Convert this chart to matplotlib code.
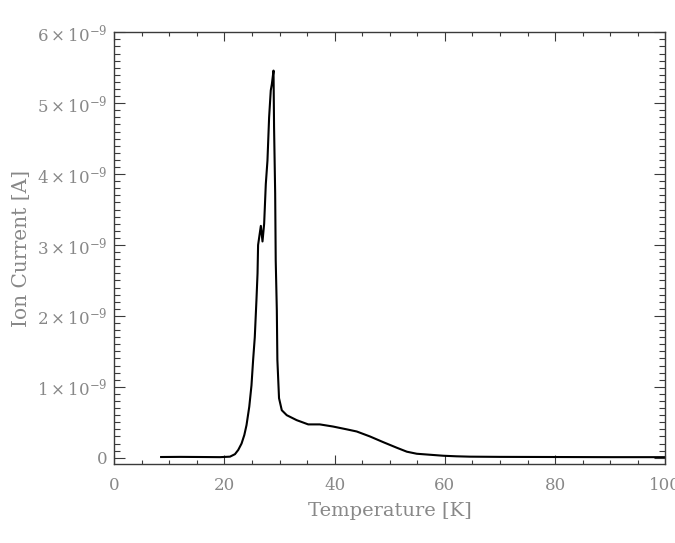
import matplotlib
matplotlib.use('Agg')
import matplotlib.pyplot as plt
from matplotlib.ticker import MultipleLocator, FixedLocator

# temperature [K] and ion current [1e-9 A]
temp = [8.5, 12.0, 16.0, 19.2, 21.0, 21.9, 22.5, 23.1, 23.6, 24.0, 24.5, 24.9,
        25.2, 25.5, 25.8, 26.0, 26.1, 26.6, 26.9, 27.2, 27.5, 27.8, 28.1, 28.4,
        28.6, 28.9, 29.0, 29.2, 29.3, 29.5, 29.6, 29.9, 30.4, 31.3, 33.1, 35.2,
        37.3, 39.7, 42.2, 44.0, 46.4, 48.8, 51.3, 53.1, 54.9, 57.3, 59.7, 62.1,
        64.5, 70.0, 80.0, 90.0, 100.0]
current = [0.01, 0.012, 0.01, 0.008, 0.015, 0.05, 0.11, 0.2, 0.32, 0.46, 0.72, 1.02,
           1.38, 1.70, 2.22, 2.60, 3.0, 3.27, 3.05, 3.30, 3.86, 4.19, 4.80, 5.18,
           5.27, 5.46, 4.66, 3.73, 2.78, 2.08, 1.38, 0.84, 0.67, 0.60, 0.53, 0.47,
           0.47, 0.44, 0.40, 0.37, 0.30, 0.22, 0.14, 0.085, 0.056, 0.042, 0.028, 0.02,
           0.015, 0.012, 0.01, 0.008, 0.008]

y_ticks = [0, 1, 2, 3, 4, 5, 6]
y_labels = ['0'] + [r'$\mathregular{%d\times10^{-9}}$' % v for v in y_ticks[1:]]
x_ticks = [0, 20, 40, 60, 80, 100]

plt.rcParams['font.family'] = ['DejaVu Serif']
plt.rcParams['mathtext.fontset'] = 'dejavuserif'

text_col = '#888888'
axis_col = '#3a3a3a'

fig = plt.figure(figsize=(6.75, 5.43), dpi=100)
ax = fig.add_axes([0.1693, 0.1449, 0.8163, 0.7956])

ax.plot(temp, [c * 1e-9 for c in current], color='black', lw=1.5)

ax.set_xlim(0, 100)
ax.set_ylim(-0.093e-9, 6e-9)

ax.xaxis.set_major_locator(FixedLocator(x_ticks))
ax.xaxis.set_minor_locator(MultipleLocator(5))
ax.set_xticklabels([str(v) for v in x_ticks])
ax.yaxis.set_major_locator(FixedLocator([v * 1e-9 for v in y_ticks]))
ax.yaxis.set_minor_locator(MultipleLocator(0.1e-9))
ax.set_yticklabels(y_labels)

ax.tick_params(axis='both', which='both', direction='in', top=True, right=True,
               color=axis_col, labelcolor=text_col, labelsize=12)
ax.tick_params(axis='x', which='major', length=6.2, width=0.8, pad=9)
ax.tick_params(axis='x', which='minor', length=3.1, width=0.8)
ax.tick_params(axis='y', which='major', length=7.9, width=0.8, pad=5)
ax.tick_params(axis='y', which='minor', length=4.0, width=0.8)
for sp in ax.spines.values():
    sp.set_color(axis_col)
    sp.set_linewidth(1.0)

ax.set_xlabel('Temperature [K]', color=text_col, fontsize=14, labelpad=6)
ax.set_ylabel('Ion Current [A]', color=text_col, fontsize=14.5, labelpad=4)

fig.savefig('out.png', dpi=100)
